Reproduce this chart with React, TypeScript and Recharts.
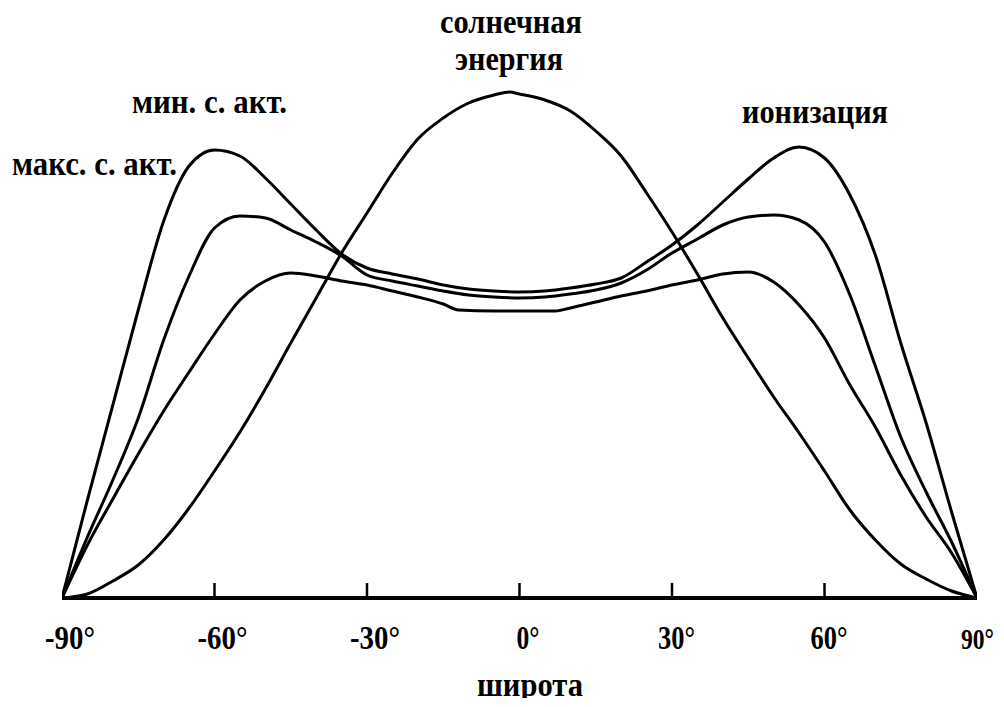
import React from 'react';
import { LineChart, Line, XAxis, YAxis } from 'recharts';

// latitude ticks along the bottom axis
const latTicks = [-90, -60, -30, 0, 30, 60, 90];

// common 5-degree latitude grid
const grid = [
  -90, -85, -80, -75, -70, -65, -60, -55, -50, -45, -40, -35, -30, -25, -20, -15, -10, -5,
  0, 5, 10, 15, 20, 25, 30, 35, 40, 45, 50, 55, 60, 65, 70, 75, 80, 85, 90,
];

// incoming solar energy
const solarLat = [
  -90, -85, -80, -75, -70, -65, -60, -55, -50, -45, -40, -35, -30, -25, -20, -15, -10, -5, -2,
  0, 5, 10, 15, 20, 25, 30, 35, 40, 45, 50, 55, 60, 65, 70, 75, 80, 85, 90,
];
const solarVals = [
  0, 0.8, 3.4, 6.6, 11.6, 18, 25.4, 33.2, 41.8, 51, 60, 69, 77, 85, 91.8, 96, 99, 100.6, 101.2,
  100.8, 99.6, 97.4, 93.4, 88.4, 81, 73.2, 64.8, 56, 48, 40.2, 33, 25.4, 17.6, 11.6, 6.8, 3.8, 1.4, 0,
];

// ionization, high solar activity
const ionHighVals = [
  0, 19.6, 38.6, 57.6, 75.4, 86.4, 89.6, 88.4, 84, 78.8, 73.6, 68.8, 66, 64.8, 63.8, 62.6, 61.8, 61.4,
  61.2, 61.4, 62, 62.8, 64, 67.2, 70.6, 74.6, 79.2, 83.8, 88, 90.2, 88, 80.6, 68.6, 51, 35, 17.2, 0,
];

// ionization, intermediate
const ionMidVals = [
  0, 12.2, 23.6, 36, 51.6, 64.4, 74, 76.4, 76, 73.6, 71.2, 68.4, 64.6, 63.4, 62.4, 61.4, 60.6, 60.2,
  60, 60.2, 60.8, 61.6, 63, 65.6, 69, 71.8, 74.6, 76.2, 76.6, 75.6, 71.2, 60.6, 46.4, 32.2, 21.2, 11.2, 0,
];

// ionization, low solar activity
const ionLowLat = [
  -90, -85, -80, -75, -70, -65, -60, -55, -50, -45, -40, -35, -30, -25, -20, -15, -12, -5,
  0, 5, 7, 10, 15, 20, 25, 30, 35, 40, 45, 50, 55, 60, 65, 70, 75, 80, 85, 90,
];
const ionLowVals = [
  0, 10.6, 19.8, 28.8, 37.4, 45.2, 52.8, 59.6, 63.4, 65, 64.4, 63.4, 62.6, 61.4, 60.2, 58.8, 57.6, 57.4,
  57.4, 57.4, 57.4, 58, 59.2, 60.4, 61.4, 62.6, 63.6, 64.8, 65.2, 63.2, 58.6, 52, 42.6, 34.2, 24.6, 16.2, 9, 0,
];

const toSeries = (lats: number[], vals: number[]) => lats.map((lat, i) => ({ lat, v: vals[i] }));

const solarData = toSeries(solarLat, solarVals);
const ionHighData = toSeries(grid, ionHighVals);
const ionMidData = toSeries(grid, ionMidVals);
const ionLowData = toSeries(ionLowLat, ionLowVals);

const FONT = "'Liberation Serif', 'DejaVu Serif', serif";
const W = 996;
const H = 690;

// tick mark pointing up into the plot, label underneath with the degree sign
const LatTick = (props: any) => {
  const { x, y, payload } = props;
  const v = payload.value as number;
  const edge = Math.abs(v) === 90;
  let shift = v < 0 ? 17 : v === 0 ? 3 : 14;
  let len = v < 0 ? 50 : v === 0 ? 23 : 37;
  let size = 33;
  if (v === 90) {
    // keep the last label inside the frame
    shift = 16;
    len = 33;
    size = 29;
  }
  return (
    <g>
      {!edge && <line x1={x} x2={x} y1={y} y2={y - 15} stroke="#000" strokeWidth={2.5} />}
      <text
        x={x - shift}
        y={y + 51}
        textLength={len}
        lengthAdjust="spacingAndGlyphs"
        fontFamily={FONT}
        fontWeight="bold"
        fontSize={size}
        fill="#000"
      >
        {`${v}°`}
      </text>
    </g>
  );
};

const labelStyle = {
  fontFamily: FONT,
  fontWeight: 'bold' as const,
  fontSize: 34,
  fill: '#000',
};

export default function App() {
  const lineProps = {
    type: 'monotone' as const,
    dataKey: 'v',
    stroke: '#000',
    strokeWidth: 3,
    dot: false,
    isAnimationActive: false,
  };

  return (
    <div style={{ position: 'relative', width: W, height: H, background: '#fff' }}>
      <LineChart width={W} height={H} margin={{ top: 40, right: 27, left: 54, bottom: 0 }}>
        <XAxis
          dataKey="lat"
          type="number"
          domain={[-90, 90]}
          ticks={latTicks}
          allowDataOverflow
          height={100}
          tickSize={0}
          tickMargin={0}
          tickLine={false}
          axisLine={{ stroke: '#000', strokeWidth: 4 }}
          tick={<LatTick />}
          interval={0}
        />
        <YAxis hide domain={[0, 110]} />
        <Line {...lineProps} data={solarData} name="солнечная энергия" />
        <Line {...lineProps} data={ionHighData} name="макс. с. акт." />
        <Line {...lineProps} data={ionMidData} name="ионизация" />
        <Line {...lineProps} data={ionLowData} name="мин. с. акт." />
      </LineChart>
      <svg
        width={1004}
        height={707}
        style={{ position: 'absolute', left: -8, top: -8, pointerEvents: 'none', overflow: 'visible' }}
      >
        <text x={511} y={33} textAnchor="middle" textLength={142} lengthAdjust="spacingAndGlyphs" {...labelStyle}>
          солнечная
        </text>
        <text x={509} y={70} textAnchor="middle" textLength={108} lengthAdjust="spacingAndGlyphs" {...labelStyle}>
          энергия
        </text>
        <text x={132} y={113} textLength={155} lengthAdjust="spacingAndGlyphs" {...labelStyle}>
          мин. с. акт.
        </text>
        <text x={12} y={175} textLength={165} lengthAdjust="spacingAndGlyphs" {...labelStyle}>
          макс. с. акт.
        </text>
        <text x={742} y={123} textLength={146} lengthAdjust="spacingAndGlyphs" {...labelStyle}>
          ионизация
        </text>
        <text x={530} y={696} textAnchor="middle" textLength={106} lengthAdjust="spacingAndGlyphs" {...labelStyle}>
          широта
        </text>
      </svg>
    </div>
  );
}
